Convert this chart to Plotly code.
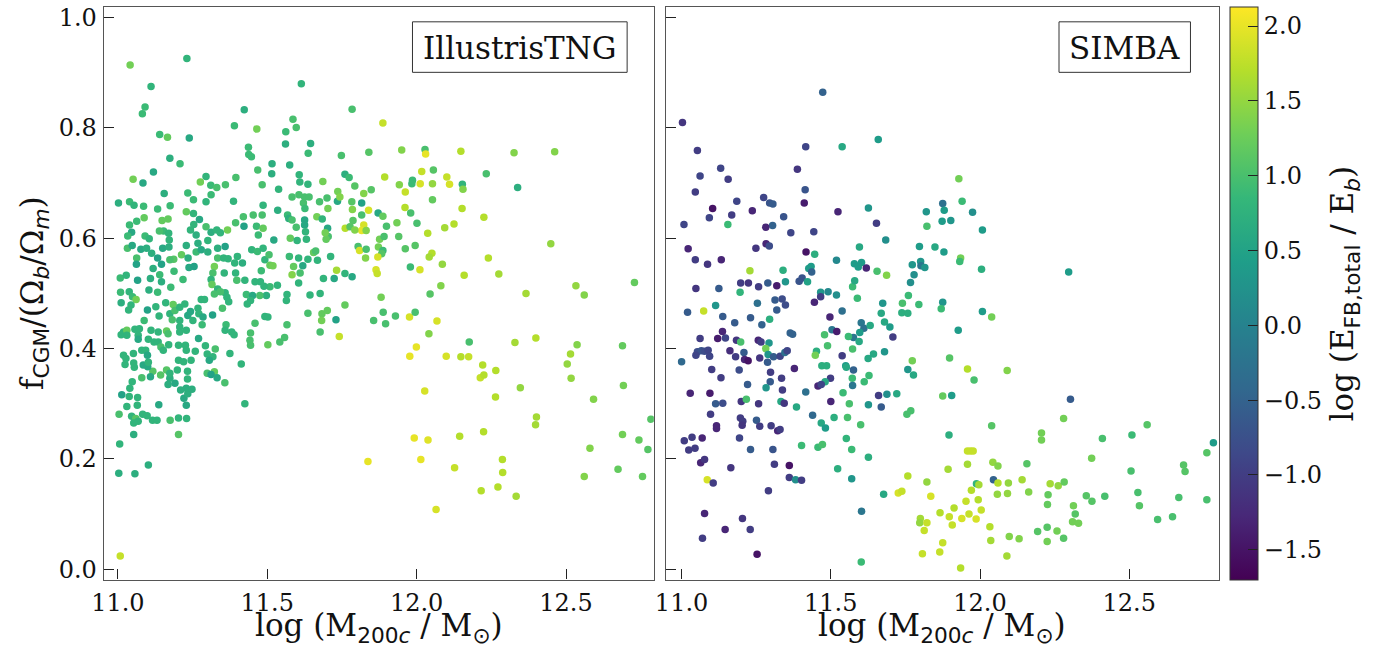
import plotly.graph_objects as go

W, H = 1374, 647

# ---------------- IllustrisTNG sample: (log M200c, f_CGM / (Omega_b/Omega_m), log E_FB/E_b)
tng = [
    (11.041,0.914,1.3),(11.231,0.926,0.8),(11.111,0.875,0.8),(11.614,0.880,0.8),(11.091,0.838,0.9),(11.082,0.826,0.9),
    (11.423,0.833,0.7),(11.784,0.834,1.0),(11.140,0.788,0.9),(11.166,0.783,1.2),(11.239,0.782,0.6),(11.390,0.804,0.9),
    (11.465,0.798,1.3),(11.586,0.816,1.0),(11.597,0.801,1.0),(11.562,0.793,0.9),(11.561,0.771,0.7),(11.645,0.772,0.7),
    (11.437,0.765,0.9),(11.438,0.752,0.9),(11.447,0.748,0.9),(11.637,0.754,0.9),(11.748,0.750,1.0),(11.174,0.745,0.7),
    (11.208,0.735,0.9),(11.516,0.735,0.7),(11.575,0.733,0.7),(11.119,0.720,0.6),(11.051,0.707,1.3),(11.084,0.700,0.6),
    (11.295,0.712,0.8),(11.276,0.702,1.3),(11.311,0.696,0.9),(11.395,0.710,1.0),(11.468,0.724,1.0),(11.515,0.717,0.7),
    (11.607,0.715,0.8),(11.609,0.702,0.8),(11.636,0.698,0.8),(11.686,0.703,1.3),(11.760,0.716,0.7),(11.774,0.710,0.9),
    (11.793,0.695,1.1),(11.823,0.681,1.4),(11.736,0.685,1.3),(11.002,0.664,0.7),(11.039,0.666,0.9),(11.054,0.660,0.8),
    (11.086,0.658,0.9),(11.155,0.681,0.7),(11.175,0.659,0.9),(11.133,0.653,0.9),(11.088,0.637,1.2),(11.063,0.631,0.9),
    (11.039,0.624,0.9),(11.046,0.611,0.6),(11.033,0.604,0.9),(11.091,0.604,0.9),(11.105,0.599,0.8),(11.032,0.582,1.0),
    (11.048,0.587,0.6),(11.063,0.564,1.0),(11.062,0.553,0.5),(11.008,0.528,0.9),(11.028,0.533,0.8),(11.066,0.524,0.5),
    (11.009,0.502,0.9),(11.038,0.503,0.8),(11.077,0.580,0.6),(11.096,0.582,0.7),(11.113,0.573,0.7),(11.133,0.564,0.5),
    (11.146,0.553,0.5),(11.118,0.545,0.7),(11.140,0.534,0.9),(11.109,0.527,0.7),(11.146,0.521,0.7),(11.104,0.506,0.7),
    (11.133,0.502,0.9),(11.177,0.511,0.9),(11.148,0.632,1.2),(11.168,0.635,1.2),(11.153,0.613,0.9),(11.170,0.609,0.8),
    (11.139,0.613,1.0),(11.172,0.597,0.8),(11.150,0.582,0.6),(11.171,0.584,0.7),(11.187,0.562,1.1),(11.174,0.561,1.0),
    (11.188,0.540,0.9),(11.218,0.525,0.9),(11.229,0.587,0.7),(11.213,0.570,1.2),(11.235,0.564,0.7),(11.238,0.547,0.6),
    (11.255,0.549,0.5),(11.262,0.575,0.9),(11.279,0.579,0.6),(11.301,0.575,0.7),(11.268,0.591,0.7),(11.262,0.606,0.7),
    (11.243,0.615,0.8),(11.254,0.625,0.8),(11.229,0.648,1.2),(11.253,0.645,0.8),(11.273,0.634,0.6),(11.234,0.682,0.9),
    (11.253,0.670,0.9),(11.295,0.666,0.8),(11.312,0.679,0.9),(11.331,0.692,1.0),(11.360,0.697,1.0),(11.387,0.667,0.8),
    (11.295,0.621,1.0),(11.312,0.611,0.7),(11.331,0.615,0.8),(11.343,0.610,0.8),(11.367,0.615,1.3),(11.394,0.628,1.0),
    (11.420,0.639,1.0),(11.422,0.622,0.5),(11.453,0.642,1.0),(11.464,0.622,0.9),(11.486,0.618,1.2),(11.470,0.606,0.9),
    (11.448,0.579,0.8),(11.467,0.576,0.9),(11.486,0.582,0.8),(11.301,0.596,0.8),(11.334,0.582,0.7),(11.359,0.585,0.5),
    (11.334,0.564,1.0),(11.354,0.564,0.8),(11.369,0.563,0.8),(11.400,0.567,0.8),(11.391,0.555,0.8),(11.417,0.555,0.7),
    (11.323,0.549,1.3),(11.318,0.537,1.0),(11.312,0.525,0.8),(11.356,0.537,0.8),(11.394,0.537,0.8),(11.315,0.516,1.2),
    (11.334,0.508,0.8),(11.359,0.501,0.8),(11.398,0.524,1.0),(11.425,0.524,0.8),(11.430,0.498,0.9),(11.451,0.496,0.6),
    (11.477,0.521,0.8),(11.459,0.521,0.8),(11.480,0.541,0.9),(11.492,0.561,0.8),(11.509,0.551,1.2),(11.519,0.550,1.3),
    (11.534,0.515,0.8),(11.509,0.512,0.9),(11.489,0.513,0.8),(11.497,0.496,0.7),(11.566,0.498,0.8),(11.522,0.597,0.6),
    (11.506,0.570,1.0),(11.483,0.642,1.0),(11.486,0.660,0.8),(11.483,0.697,1.0),(11.535,0.651,0.7),(11.538,0.689,0.8),
    (11.568,0.642,0.9),(11.572,0.636,0.7),(11.583,0.675,1.0),(11.606,0.679,1.0),(11.625,0.675,1.0),(11.640,0.675,1.0),
    (11.621,0.664,1.0),(11.626,0.654,0.9),(11.625,0.633,0.6),(11.625,0.624,0.6),(11.628,0.612,0.8),(11.597,0.620,1.0),
    (11.583,0.633,1.0),(11.577,0.600,1.2),(11.600,0.596,0.8),(11.631,0.598,0.8),(11.655,0.574,1.2),(11.662,0.577,1.0),
    (11.636,0.562,0.8),(11.605,0.564,0.8),(11.574,0.567,0.9),(11.588,0.549,1.2),(11.619,0.550,0.6),(11.583,0.534,1.4),
    (11.610,0.537,1.0),(11.605,0.519,0.8),(11.643,0.497,0.8),(11.677,0.500,0.8),(11.688,0.527,0.8),(11.668,0.560,0.8),
    (11.712,0.567,0.8),(11.732,0.542,1.6),(11.724,0.527,0.6),(11.760,0.536,0.8),(11.784,0.530,0.6),(11.666,0.639,1.3),
    (11.684,0.635,0.8),(11.675,0.666,1.0),(11.703,0.654,1.3),(11.700,0.673,1.0),(11.702,0.618,0.6),(11.704,0.603,1.0),
    (11.697,0.598,1.2),(11.694,0.610,1.3),(11.735,0.667,0.6),(11.743,0.675,1.4),(11.761,0.618,1.7),(11.777,0.621,1.1),
    (11.787,0.632,1.1),(11.785,0.652,1.4),(11.783,0.666,1.1),(11.816,0.664,0.5),(11.816,0.642,1.0),(11.823,0.624,1.9),
    (11.816,0.614,2.0),(11.831,0.614,1.4),(11.793,0.615,1.4),(11.804,0.585,1.0),(11.809,0.578,1.9),(11.829,0.564,1.4),
    (11.831,0.580,1.0),(11.839,0.651,1.9),(11.840,0.756,1.1),
    (11.011,0.483,0.7),(11.049,0.494,0.9),(11.061,0.489,1.3),(11.044,0.479,0.8),(11.036,0.470,0.8),(11.099,0.470,0.5),
    (11.127,0.476,0.8),(11.138,0.459,0.8),(11.088,0.451,0.9),(11.160,0.483,0.8),(11.174,0.463,0.8),(11.185,0.480,1.2),
    (11.182,0.452,1.0),(11.191,0.469,1.0),(11.207,0.475,0.8),(11.207,0.451,0.8),(11.224,0.481,0.8),(11.234,0.460,0.6),
    (11.243,0.467,0.6),(11.251,0.451,0.8),(11.268,0.473,0.8),(11.271,0.463,0.8),(11.279,0.489,0.8),(11.290,0.489,0.8),
    (11.282,0.443,0.9),(11.285,0.457,0.6),(11.317,0.461,0.5),(11.323,0.499,1.0),(11.343,0.503,1.0),(11.350,0.473,1.0),
    (11.365,0.493,0.8),(11.371,0.485,0.8),(11.362,0.443,0.9),(11.359,0.433,0.8),(11.381,0.430,0.8),(11.389,0.425,0.8),
    (11.444,0.487,0.8),(11.433,0.481,0.8),(11.475,0.496,1.0),(11.459,0.446,1.0),(11.444,0.428,1.0),(11.442,0.415,1.0),
    (11.444,0.406,1.0),(11.492,0.458,0.8),(11.502,0.457,0.8),(11.502,0.407,1.2),(11.542,0.412,1.0),(11.558,0.420,1.0),
    (11.566,0.443,1.0),(11.564,0.487,0.8),(11.636,0.464,1.0),(11.683,0.463,1.2),(11.701,0.469,1.2),(11.682,0.451,1.3),
    (11.730,0.452,0.5),(11.760,0.479,1.2),(11.677,0.430,1.0),(11.741,0.422,1.8),(11.837,0.195,2.0),(11.008,0.024,1.8),
    (11.003,0.174,0.7),(11.057,0.173,0.7),(11.102,0.189,0.7),(11.006,0.227,0.8),(11.053,0.244,0.7),(11.203,0.244,1.1),
    (11.004,0.281,1.0),(11.013,0.316,0.5),(11.038,0.313,0.8),(11.066,0.311,0.8),(11.030,0.295,0.8),(11.065,0.297,0.8),
    (11.046,0.277,0.8),(11.060,0.273,1.1),(11.068,0.268,0.8),(11.053,0.265,0.8),(11.083,0.281,0.8),(11.098,0.278,0.8),
    (11.116,0.270,0.8),(11.131,0.270,0.8),(11.137,0.298,0.6),(11.175,0.270,1.0),(11.203,0.274,0.8),(11.230,0.273,0.8),
    (11.229,0.297,0.6),(11.221,0.310,0.6),(11.234,0.318,0.7),(11.229,0.328,0.7),(11.248,0.326,0.7),(11.210,0.325,0.7),
    (11.168,0.335,0.7),(11.191,0.337,0.6),(11.174,0.346,0.7),(11.143,0.352,1.1),(11.117,0.359,1.1),(11.163,0.361,1.1),
    (11.174,0.355,0.8),(11.199,0.361,0.8),(11.233,0.345,0.8),(11.233,0.359,0.8),(11.203,0.379,0.8),(11.220,0.376,0.8),
    (11.245,0.379,0.8),(11.109,0.349,0.6),(11.080,0.347,1.0),(11.048,0.340,0.8),(11.040,0.328,0.8),(11.055,0.366,0.8),
    (11.024,0.371,0.8),(11.019,0.388,0.8),(11.027,0.382,0.8),(11.053,0.374,0.8),(11.052,0.391,0.8),(11.100,0.367,0.6),
    (11.085,0.370,0.6),(11.102,0.375,0.8),(11.080,0.397,0.8),(11.093,0.397,0.8),(11.099,0.388,0.6),(11.011,0.425,0.8),
    (11.019,0.430,0.8),(11.030,0.433,1.2),(11.030,0.424,0.8),(11.057,0.435,0.8),(11.068,0.424,0.8),(11.068,0.417,0.6),
    (11.072,0.436,0.8),(11.102,0.417,0.8),(11.111,0.433,0.8),(11.135,0.430,0.8),(11.163,0.432,1.2),(11.168,0.427,1.0),
    (11.121,0.412,0.8),(11.135,0.412,0.8),(11.144,0.403,1.0),(11.152,0.397,0.8),(11.170,0.407,0.8),(11.203,0.406,0.8),
    (11.226,0.406,0.8),(11.229,0.397,0.8),(11.259,0.395,0.8),(11.207,0.439,0.8),(11.207,0.430,0.8),(11.229,0.433,0.8),
    (11.270,0.418,0.6),(11.293,0.405,0.8),(11.299,0.390,0.8),(11.318,0.385,0.8),(11.326,0.399,1.0),(11.306,0.379,0.6),
    (11.299,0.355,1.0),(11.323,0.358,1.2),(11.312,0.353,0.5),(11.332,0.347,0.6),(11.358,0.338,1.0),(11.375,0.391,0.8),
    (11.413,0.372,0.8),(11.425,0.300,0.8),
    (11.887,0.809,1.8),(11.950,0.760,1.4),(12.028,0.761,1.0),(12.030,0.753,2.0),(12.148,0.758,1.7),(12.326,0.755,1.4),
    (12.462,0.757,1.4),(12.233,0.717,1.0),(12.338,0.692,0.7),(11.893,0.711,1.7),(12.017,0.721,1.8),(12.056,0.724,1.1),
    (12.101,0.711,1.8),(12.110,0.698,1.9),(12.153,0.698,0.8),(12.155,0.689,1.4),(11.986,0.705,0.9),(11.984,0.699,0.9),
    (12.012,0.699,1.9),(12.053,0.699,1.5),(11.942,0.697,1.4),(11.962,0.684,1.8),(11.848,0.688,1.1),(12.053,0.670,1.2),
    (11.961,0.656,1.7),(12.152,0.654,1.7),(11.980,0.646,1.0),(11.871,0.646,0.6),(11.887,0.640,1.2),(12.225,0.638,1.7),
    (11.934,0.628,1.3),(12.001,0.627,1.0),(11.899,0.622,1.0),(12.094,0.619,1.6),(12.125,0.626,1.7),(12.037,0.609,1.7),
    (11.940,0.603,1.1),(11.876,0.598,1.3),(11.891,0.603,1.0),(11.995,0.587,1.1),(11.962,0.581,1.1),(11.872,0.584,1.3),
    (11.887,0.578,0.9),(11.883,0.572,1.1),(12.051,0.573,1.7),(12.042,0.566,1.6),(11.870,0.566,1.9),(11.864,0.543,1.9),
    (11.868,0.536,1.8),(11.979,0.548,0.9),(12.011,0.543,1.9),(12.086,0.553,1.5),(12.240,0.564,1.7),(12.159,0.533,1.7),
    (12.275,0.535,1.6),(12.449,0.590,1.5),(12.729,0.520,1.2),(12.533,0.514,1.5),(12.561,0.497,1.4),(12.366,0.500,1.6),
    (12.081,0.514,1.4),(12.045,0.499,1.1),(11.881,0.493,1.3),
    (11.888,0.466,1.0),(11.929,0.459,1.0),(11.856,0.451,1.0),(11.896,0.445,1.0),(11.976,0.457,1.9),(11.995,0.466,1.0),
    (12.068,0.450,1.9),(12.041,0.427,1.4),(12.176,0.412,1.0),(12.329,0.411,1.6),(12.399,0.419,1.7),(12.537,0.407,1.4),
    (12.515,0.390,1.6),(12.504,0.372,1.5),(12.517,0.346,1.5),(12.689,0.405,1.2),(12.692,0.333,1.3),(12.592,0.308,1.4),
    (12.784,0.272,1.1),(12.689,0.244,1.3),(12.744,0.234,1.2),(12.774,0.217,1.1),(12.580,0.219,1.4),(12.674,0.181,1.2),
    (12.561,0.168,1.4),(12.756,0.168,1.2),(11.999,0.403,2.0),(11.977,0.386,2.0),(12.027,0.323,1.9),(12.099,0.386,1.9),
    (12.148,0.385,1.7),(12.174,0.385,1.8),(12.221,0.370,1.7),(12.213,0.347,1.8),(12.225,0.352,1.7),(12.265,0.360,1.7),
    (12.347,0.329,1.5),(12.264,0.312,1.7),(12.401,0.276,1.6),(12.398,0.262,1.6),(11.992,0.238,2.0),(12.038,0.234,1.95),
    (12.014,0.199,2.0),(12.144,0.241,1.7),(12.224,0.249,1.7),(12.127,0.184,1.8),(12.287,0.199,1.7),(12.288,0.175,1.7),
    (12.216,0.142,1.7),(12.272,0.149,1.7),(12.333,0.132,1.6),(12.065,0.108,1.9),
]

# ---------------- SIMBA sample
simba = [
    (11.473,0.865,-0.5),(11.003,0.810,-1.1),(11.053,0.759,-1.0),(11.416,0.766,-0.9),(11.538,0.766,0.6),(11.659,0.779,0.4),
    (11.062,0.713,-0.9),(11.131,0.727,-0.9),(11.156,0.707,-1.0),(11.388,0.725,-1.1),(11.046,0.684,-1.0),(11.414,0.688,-0.7),
    (11.411,0.664,-1.4),(11.185,0.667,-0.9),(11.275,0.674,-0.9),(11.295,0.664,-0.7),(11.306,0.662,-0.6),(11.104,0.654,-1.5),
    (11.237,0.650,-1.3),(11.524,0.648,-1.3),(11.626,0.655,0.3),(11.093,0.637,-0.9),(11.168,0.642,-1.0),(11.008,0.625,-0.9),
    (11.155,0.625,0.9),(11.342,0.639,-0.7),(11.305,0.623,-0.5),(11.282,0.620,-1.3),(11.366,0.610,-0.9),(11.443,0.612,-0.9),
    (11.653,0.627,-1.0),(11.684,0.597,0.2),(11.820,0.648,0.3),(11.822,0.622,1.0),(11.875,0.663,-0.3),(11.880,0.651,0.4),
    (11.873,0.631,0.4),(11.022,0.581,-1.3),(11.046,0.561,-1.0),(11.087,0.553,-1.1),(11.133,0.561,-1.3),(11.249,0.582,-1.1),
    (11.283,0.590,-1.3),(11.294,0.586,-0.8),(11.417,0.575,-1.5),(11.446,0.571,0.7),(11.596,0.584,0.6),(11.797,0.585,0.4),
    (11.849,0.584,0.6),(11.879,0.575,0.4),(11.519,0.560,0.1),(11.579,0.554,0.4),(11.592,0.548,0.4),(11.603,0.556,0.4),
    (11.619,0.546,-1.3),(11.434,0.549,0.4),(11.426,0.545,0.4),(11.436,0.539,-0.5),(11.229,0.541,1.6),(11.340,0.542,0.7),
    (11.655,0.540,1.0),(11.687,0.533,1.4),(11.773,0.552,0.3),(11.801,0.558,0.3),(11.802,0.550,-0.2),(11.815,0.547,0.3),
    (11.779,0.534,0.2),(11.767,0.520,0.2),(11.760,0.496,0.9),(11.198,0.519,-1.0),(11.224,0.519,-1.1),(11.258,0.512,-1.0),
    (11.289,0.519,-0.6),(11.319,0.514,-1.4),(11.348,0.521,0.3),(11.394,0.522,-0.7),(11.404,0.528,-0.7),(11.422,0.521,0.5),
    (11.048,0.509,-1.1),(11.125,0.509,-0.6),(11.196,0.502,0.8),(11.466,0.502,0.3),(11.491,0.503,0.1),(11.519,0.497,0.2),
    (11.573,0.512,0.9),(11.580,0.523,0.6),(11.589,0.491,0.9),
    (11.929,0.708,1.3),(11.940,0.667,0.9),(11.975,0.647,0.2),(11.902,0.632,0.3),(12.008,0.615,0.4),(11.935,0.564,1.3),
    (11.932,0.558,0.9),(12.005,0.544,0.7),(12.297,0.539,0.4),
    (11.020,0.466,-0.6),(11.074,0.468,1.8),(11.114,0.478,0.3),(11.138,0.458,-0.6),(11.178,0.447,-0.6),(11.231,0.456,-0.6),
    (11.254,0.482,-0.3),(11.269,0.443,-0.5),(11.295,0.453,0.7),(11.313,0.488,-0.6),(11.319,0.470,-0.6),(11.337,0.490,-0.8),
    (11.348,0.479,-0.8),(11.364,0.428,-0.5),(11.372,0.426,-0.5),(11.445,0.484,-1.3),(11.466,0.494,-1.0),(11.497,0.457,-1.3),
    (11.538,0.468,-0.3),(11.504,0.434,-0.2),(11.520,0.431,-1.4),(11.674,0.482,0.3),(11.669,0.464,0.6),(11.680,0.448,0.6),
    (11.698,0.439,0.4),(11.740,0.482,1.0),(11.738,0.465,0.7),(11.758,0.464,0.7),(11.795,0.480,0.9),(11.875,0.484,0.3),
    (11.870,0.472,0.9),(11.602,0.447,-0.2),(11.611,0.437,-0.3),(11.632,0.442,0.6),(11.597,0.429,0.4),(11.576,0.420,-0.2),
    (11.595,0.413,0.6),(11.559,0.422,0.9),(11.708,0.421,-1.0),(11.479,0.425,1.0),(11.489,0.405,1.0),(11.573,0.399,1.0),
    (11.452,0.395,0.7),(11.448,0.388,1.3),(11.538,0.387,-1.0),(11.550,0.369,0.4),(11.552,0.366,0.6),(11.576,0.361,-0.5),
    (11.470,0.369,0.7),(11.486,0.369,0.7),(11.499,0.346,-1.0),(11.481,0.340,0.6),(11.457,0.332,-1.3),(11.468,0.335,-0.9),
    (11.572,0.346,0.9),(11.573,0.333,-0.2),(11.612,0.340,0.9),(11.628,0.351,0.9),(11.625,0.382,0.6),(11.643,0.390,0.6),
    (11.680,0.394,0.3),(11.660,0.315,-1.0),(11.688,0.317,0.2),(11.721,0.318,0.6),(11.773,0.378,1.3),(11.758,0.362,0.3),
    (11.777,0.352,0.6),(11.669,0.294,-0.6),(11.626,0.298,0.3),(11.562,0.300,1.0),(11.541,0.320,0.9),(11.500,0.304,-1.3),
    (11.416,0.321,-0.3),(11.385,0.294,0.6),(11.439,0.279,-0.4),(11.511,0.275,0.7),(11.556,0.275,1.0),(11.468,0.265,0.6),
    (11.482,0.256,0.4),(11.600,0.262,1.0),(11.755,0.281,1.0),(11.768,0.287,1.0),(11.875,0.314,1.2),(11.402,0.224,0.9),
    (11.457,0.221,0.9),(11.472,0.226,1.0),(11.552,0.237,0.8),(11.570,0.217,0.9),(11.626,0.203,0.7),(11.523,0.182,0.7),
    (11.570,0.164,0.3),(11.677,0.136,0.6),(11.603,0.105,-0.2),(11.602,0.013,0.9),(11.758,0.169,1.7),(11.726,0.138,1.9),
    (11.738,0.141,1.8),(11.822,0.158,1.5),(11.835,0.132,1.9),(11.866,0.102,1.7),(11.800,0.092,1.6),(11.798,0.084,1.5),
    (11.822,0.084,1.8),(11.813,0.070,1.8),(11.875,0.048,1.8),(11.807,0.028,1.8),(11.865,0.031,1.8),(11.000,0.376,-0.4),
    (11.053,0.394,-0.8),(11.066,0.396,-0.7),(11.077,0.395,-0.8),(11.089,0.397,-0.9),(11.048,0.388,-0.9),(11.094,0.386,-0.9),
    (11.062,0.418,-1.0),(11.121,0.418,-1.4),(11.147,0.419,-0.9),(11.137,0.431,-1.3),(11.162,0.396,-1.2),(11.181,0.385,-1.0),
    (11.184,0.415,-1.1),(11.198,0.412,1.0),(11.209,0.393,-0.6),(11.211,0.380,-1.3),(11.223,0.378,-1.5),(11.257,0.415,-1.3),
    (11.266,0.412,-1.0),(11.293,0.410,0.3),(11.282,0.400,1.3),(11.290,0.389,0.3),(11.262,0.383,-1.1),(11.288,0.375,-0.6),
    (11.308,0.385,-0.6),(11.330,0.386,-0.9),(11.346,0.393,-0.3),(11.354,0.396,-0.9),(11.378,0.364,-1.3),(11.101,0.362,-1.0),
    (11.132,0.347,-1.0),(11.193,0.361,-0.8),(11.221,0.335,-0.6),(11.298,0.357,-1.0),(11.297,0.340,-0.6),(11.283,0.329,0.3),
    (11.335,0.346,-1.0),(11.338,0.325,-1.0),(11.333,0.304,0.6),(11.344,0.301,-1.1),(11.029,0.319,-1.3),(11.095,0.319,-1.4),
    (11.114,0.300,-0.6),(11.138,0.301,-0.8),(11.200,0.304,-1.1),(11.217,0.308,1.0),(11.258,0.300,-1.1),(11.097,0.281,-1.0),
    (11.117,0.260,-1.3),(11.117,0.255,-1.3),(11.197,0.274,-1.0),(11.205,0.268,-1.0),(11.203,0.261,-1.1),(11.251,0.270,-0.6),
    (11.262,0.259,-1.0),(11.300,0.260,-1.0),(11.322,0.251,-1.3),(11.330,0.253,-1.0),(11.009,0.233,-1.0),(11.035,0.239,-1.0),
    (11.069,0.238,-1.3),(11.024,0.216,-1.0),(11.045,0.219,-1.0),(11.194,0.238,-0.9),(11.231,0.217,-0.6),(11.306,0.217,-0.7),
    (11.064,0.193,-1.3),(11.077,0.199,-1.1),(11.165,0.184,-1.1),(11.311,0.190,-1.0),(11.361,0.188,-1.5),(11.361,0.166,-1.0),
    (11.382,0.162,0.2),(11.402,0.161,-1.0),(11.086,0.162,1.9),(11.106,0.156,-1.0),(11.291,0.142,-1.0),(11.077,0.101,-1.3),
    (11.204,0.092,-1.1),(11.146,0.072,-1.3),(11.230,0.072,-1.0),(11.070,0.056,-1.0),(11.253,0.027,-1.5),
    (12.008,0.467,0.4),(12.039,0.457,1.3),(11.927,0.433,0.4),(11.898,0.383,1.1),(11.958,0.363,1.7),(12.091,0.360,1.4),
    (11.980,0.343,1.0),(11.905,0.315,0.4),(12.303,0.308,-0.6),(12.280,0.273,1.3),(12.039,0.260,1.1),(11.896,0.243,0.7),
    (12.206,0.247,1.3),(12.206,0.234,1.3),(12.410,0.237,1.0),(12.509,0.243,0.9),(12.560,0.262,1.1),(12.374,0.201,1.3),
    (12.506,0.178,1.0),(12.682,0.189,1.1),(12.687,0.177,1.1),(12.760,0.211,1.1),(12.782,0.229,0.4),(11.958,0.214,1.8),
    (11.968,0.214,1.8),(11.977,0.214,1.8),(11.893,0.181,1.6),(11.958,0.190,1.6),(12.043,0.194,1.5),(12.060,0.187,1.4),
    (12.157,0.191,1.1),(12.045,0.162,-0.5),(11.988,0.155,0.8),(12.060,0.156,1.7),(12.095,0.156,1.5),(12.141,0.162,1.6),
    (12.235,0.155,1.6),(12.262,0.151,1.5),(12.282,0.158,1.2),(11.971,0.143,1.7),(11.996,0.153,1.6),(12.058,0.136,1.5),
    (12.092,0.137,1.5),(12.163,0.140,1.4),(12.228,0.135,1.2),(12.356,0.133,1.1),(12.375,0.123,1.1),(12.418,0.132,1.0),
    (12.529,0.139,1.0),(12.534,0.115,1.1),(12.666,0.130,1.0),(12.760,0.126,1.0),(11.953,0.123,1.8),(11.994,0.126,1.7),
    (11.913,0.111,1.7),(11.897,0.095,1.8),(11.939,0.092,1.9),(11.963,0.100,1.8),(11.987,0.091,1.9),(12.004,0.107,1.8),
    (11.907,0.080,1.8),(12.226,0.117,1.2),(12.313,0.115,1.3),(12.319,0.100,1.1),(12.310,0.086,1.3),(12.330,0.083,1.3),
    (12.033,0.077,1.7),(12.193,0.068,1.1),(12.225,0.076,1.1),(12.258,0.069,1.3),(12.280,0.056,1.1),(12.225,0.050,1.3),
    (12.098,0.059,1.4),(12.131,0.055,1.4),(12.036,0.052,1.6),(12.595,0.090,1.0),(12.645,0.095,1.0),(12.090,0.024,1.6),
    (11.935,0.002,1.7),
]

tng_logm = [p[0] for p in tng]
tng_fcgm = [p[1] for p in tng]
tng_loge = [p[2] for p in tng]
simba_logm = [p[0] for p in simba]
simba_fcgm = [p[1] for p in simba]
simba_loge = [p[2] for p in simba]

x_ticks = [11.0, 11.5, 12.0, 12.5]
y_ticks = [0.0, 0.2, 0.4, 0.6, 0.8, 1.0]
cb_ticks = [-1.5, -1.0, -0.5, 0.0, 0.5, 1.0, 1.5, 2.0]
panel_names = ["IllustrisTNG", "SIMBA"]

SERIF = "DejaVu Serif"
SANS = "DejaVu Sans"
FRAME = "#555555"
TICK_SIZE = 24
LABEL_SIZE = 31
NAME_SIZE = 31


def px_x(p):
    return p / W


def px_y(p):
    return 1 - p / H


top, bottom = 4.7, 583.0
ydom = [px_y(bottom), px_y(top)]
left_dom = [px_x(91.7), px_x(647.0)]
right_dom = [px_x(659.3), px_x(1217.3)]

fig = go.Figure()
marker_common = dict(size=7.5, coloraxis="coloraxis", line=dict(width=0), opacity=1)
fig.add_trace(go.Scatter(x=tng_logm, y=tng_fcgm, mode="markers",
                         marker=dict(color=tng_loge, **marker_common),
                         xaxis="x", yaxis="y", showlegend=False))
fig.add_trace(go.Scatter(x=simba_logm, y=simba_fcgm, mode="markers",
                         marker=dict(color=simba_loge, **marker_common),
                         xaxis="x2", yaxis="y2", showlegend=False))

axis_common = dict(showline=True, linecolor=FRAME, linewidth=1.3, mirror=True,
                   ticks="inside", ticklen=10, tickwidth=1, tickcolor="#222",
                   showgrid=False, zeroline=False, ticklabelstandoff=1,
                   tickfont=dict(family=SERIF, size=TICK_SIZE, color="#111"))

xtxt = [f"{v:.1f}" for v in x_ticks]
ytxt = [f"{v:.1f}" for v in y_ticks]
yr = [-0.019, 1.020]

fig.update_layout(
    width=W, height=H,
    margin=dict(l=0, r=0, t=0, b=0),
    paper_bgcolor="white", plot_bgcolor="white",
    xaxis=dict(domain=left_dom, range=[10.953, 12.794], anchor="y",
               tickvals=x_ticks, ticktext=xtxt, **axis_common),
    yaxis=dict(domain=ydom, range=yr, anchor="x",
               tickvals=y_ticks, ticktext=ytxt, **axis_common),
    xaxis2=dict(domain=right_dom, range=[10.948, 12.800], anchor="y2",
                tickvals=x_ticks, ticktext=xtxt, **axis_common),
    yaxis2=dict(domain=ydom, range=yr, anchor="x2",
                tickvals=y_ticks, showticklabels=False, **axis_common),
    coloraxis=dict(
        colorscale="Viridis", cmin=-1.70, cmax=2.13,
        colorbar=dict(
            x=px_x(1228.3), xanchor="left", xpad=0, ypad=0,
            y=(ydom[0] + ydom[1]) / 2, yanchor="middle",
            len=ydom[1] - ydom[0], lenmode="fraction",
            thickness=28, thicknessmode="pixels",
            outlinewidth=1, outlinecolor="#333",
            ticks="inside", ticklen=10, tickcolor="#222",
            tickvals=cb_ticks,
            ticktext=[f"{v:.1f}".replace("-", "\u2212") for v in cb_ticks],
            tickfont=dict(family=SERIF, size=TICK_SIZE, color="#111"),
        ),
    ),
)

sub = lambda s: f'<sub><span style="font-family:{SANS}">{s}</span></sub>'
xtitle = f"log (M{sub('200<i>c</i>')} / M{sub('⊙')})"
ytitle = f"f{sub('CGM')}/(Ω{sub('<i>b</i>')}/Ω{sub('<i>m</i>')})"
cbtitle = f"log (E{sub('FB,total')} / E{sub('<i>b</i>')})"

ann = []
for dom in (left_dom, right_dom):
    ann.append(dict(text=xtitle, x=(dom[0] + dom[1]) / 2, y=px_y(631), xref="paper", yref="paper",
                    xanchor="center", yanchor="middle", showarrow=False, borderpad=0,
                    font=dict(family=SERIF, size=LABEL_SIZE, color="#111")))
ann.append(dict(text=ytitle, x=px_x(21), y=(ydom[0] + ydom[1]) / 2, xref="paper", yref="paper",
                xanchor="center", yanchor="middle", textangle=-90, showarrow=False, borderpad=0,
                font=dict(family=SERIF, size=LABEL_SIZE, color="#111")))
ann.append(dict(text=cbtitle, x=px_x(1344), y=(ydom[0] + ydom[1]) / 2, xref="paper", yref="paper",
                xanchor="center", yanchor="middle", textangle=-90, showarrow=False, borderpad=0,
                font=dict(family=SERIF, size=LABEL_SIZE, color="#111")))

# framed simulation names in the upper right of each panel
shapes = []
for name, (bx0, bx1) in zip(panel_names, ((403.3, 620.0), (1056.0, 1188.7))):
    by0, by1 = 20.0, 71.0
    shapes.append(dict(type="rect", xref="paper", yref="paper",
                       x0=px_x(bx0), x1=px_x(bx1), y0=px_y(by1), y1=px_y(by0),
                       line=dict(color="#333", width=1), fillcolor="white", layer="above"))
    ann.append(dict(text=name, x=px_x((bx0 + bx1) / 2), y=px_y((by0 + by1) / 2 + 1),
                    xref="paper", yref="paper", xanchor="center", yanchor="middle",
                    showarrow=False, font=dict(family=SERIF, size=NAME_SIZE, color="#111")))

fig.update_layout(annotations=ann, shapes=shapes)

fig.write_html("out.html")
